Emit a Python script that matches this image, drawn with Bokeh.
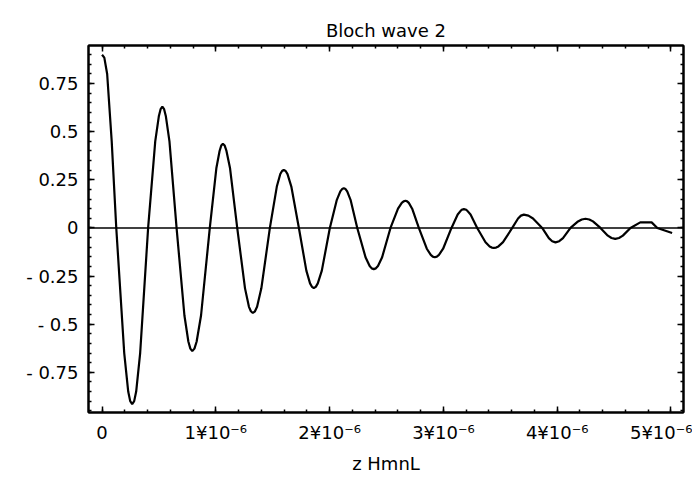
from bokeh.plotting import figure
from bokeh.models import FixedTicker, LinearAxis, Span, Range1d
from bokeh.embed import file_html
from bokeh.resources import INLINE

# z in units of 1e-6 m, amplitude of Bloch wave 2
z_um = [0.000, 0.020, 0.045, 0.085, 0.125, 0.195, 0.230, 0.2475, 0.265, 0.2825, 0.300, 0.335, 0.405,
        0.4675, 0.499, 0.5145, 0.530, 0.5455, 0.561, 0.5925, 0.655,
        0.724, 0.7585, 0.776, 0.793, 0.812, 0.8315, 0.870, 0.947,
        1.0045, 1.033, 1.0475, 1.062, 1.078, 1.0935, 1.125, 1.188,
        1.2565, 1.291, 1.308, 1.325, 1.344, 1.3625, 1.400, 1.475,
        1.536, 1.5665, 1.582, 1.597, 1.6135, 1.630, 1.6635, 1.730,
        1.7955, 1.828, 1.8445, 1.861, 1.8785, 1.896, 1.9315, 2.002,
        2.0635, 2.094, 2.1095, 2.125, 2.140, 2.1545, 2.184, 2.243,
        2.3155, 2.352, 2.370, 2.388, 2.4065, 2.425, 2.4615, 2.535,
        2.601, 2.634, 2.6505, 2.667, 2.6815, 2.696, 2.7255, 2.784,
        2.854, 2.889, 2.9065, 2.924, 2.9425, 2.961, 2.9975, 3.071,
        3.1255, 3.153, 3.1665, 3.180, 3.1945, 3.209, 3.2385, 3.297,
        3.370, 3.4065, 3.425, 3.443, 3.463, 3.4835, 3.524, 3.605,
        3.656, 3.6815, 3.707, 3.747, 3.7875, 3.868, 3.9265, 3.956, 3.985, 4.018, 4.051, 4.117,
        4.183, 4.216, 4.249, 4.282, 4.3145, 4.380, 4.445, 4.4775, 4.510, 4.5435, 4.577, 4.644,
        4.730, 4.830, 4.880, 5.010]
psi = [0.900, 0.885, 0.800, 0.450, 0.000, -0.650, -0.850, -0.900, -0.915, -0.900, -0.850, -0.650, 0.000,
       0.450, 0.580, 0.617, 0.630, 0.617, 0.580, 0.450, 0.000,
       -0.455, -0.590, -0.627, -0.640, -0.627, -0.590, -0.455, 0.000,
       0.310, 0.400, 0.428, 0.437, 0.428, 0.400, 0.310, 0.000,
       -0.314, -0.410, -0.433, -0.442, -0.433, -0.410, -0.314, 0.000,
       0.215, 0.280, 0.296, 0.302, 0.296, 0.280, 0.215, 0.000,
       -0.222, -0.288, -0.306, -0.312, -0.306, -0.288, -0.222, 0.000,
       0.146, 0.190, 0.202, 0.206, 0.202, 0.190, 0.146, 0.000,
       -0.152, -0.198, -0.210, -0.214, -0.210, -0.198, -0.152, 0.000,
       0.100, 0.130, 0.138, 0.141, 0.138, 0.130, 0.100, 0.000,
       -0.108, -0.140, -0.149, -0.152, -0.149, -0.140, -0.108, 0.000,
       0.070, 0.090, 0.096, 0.098, 0.096, 0.090, 0.070, 0.000,
       -0.074, -0.096, -0.102, -0.104, -0.102, -0.096, -0.074, 0.000,
       0.049, 0.064, 0.069, 0.064, 0.049, 0.000, -0.053, -0.069, -0.075, -0.069, -0.053, 0.000,
       0.034, 0.044, 0.048, 0.044, 0.034, 0.000, -0.040, -0.052, -0.057, -0.052, -0.040, 0.000,
       0.029, 0.029, 0.000, -0.026]

x_ticks = [0, 1, 2, 3, 4, 5]
x_tick_labels = ["0", "1¥10⁻⁶", "2¥10⁻⁶", "3¥10⁻⁶", "4¥10⁻⁶", "5¥10⁻⁶"]
y_ticks = [-0.75, -0.5, -0.25, 0, 0.25, 0.5, 0.75]
y_tick_labels = ["- 0.75", "- 0.5", "- 0.25", "0", "0.25", "0.5", "0.75"]

FONT = "DejaVu Sans"
FS = "18px"

p = figure(width=692, height=476, output_backend="svg", toolbar_location=None,
           x_range=Range1d(-0.119, 5.11), y_range=Range1d(-0.959, 0.948),
           title="Bloch wave 2", x_axis_label="z HmnL")
p.min_border_left = 88
p.min_border_right = 9
p.min_border_top = 45
p.min_border_bottom = 63
p.background_fill_color = "white"
p.border_fill_color = "white"
p.grid.visible = False
p.outline_line_color = "black"
p.outline_line_width = 2

p.title.align = "center"
p.title.text_font = FONT
p.title.text_font_size = FS
p.title.text_font_style = "normal"
p.title.text_color = "black"

x_minor = [i * 0.2 for i in range(0, 26)]
y_minor = [round(-0.95 + i * 0.05, 2) for i in range(0, 39)]
xt = FixedTicker(ticks=x_ticks, minor_ticks=x_minor)
yt = FixedTicker(ticks=y_ticks, minor_ticks=y_minor)


def style(ax, show_labels=True):
    ax.axis_line_color = "black"
    ax.axis_line_width = 2
    ax.major_tick_in = 6
    ax.major_tick_out = 0
    ax.minor_tick_in = 3
    ax.minor_tick_out = 0
    ax.major_tick_line_color = "black"
    ax.minor_tick_line_color = "black"
    ax.major_tick_line_width = 1.5
    ax.minor_tick_line_width = 1.5
    ax.major_label_text_font = FONT
    ax.major_label_text_color = "black"
    if show_labels:
        ax.major_label_text_font_size = FS
    else:
        ax.major_label_text_font_size = "0px"
        ax.major_label_standoff = 0


xa = p.xaxis[0]
xa.ticker = xt
xa.major_label_overrides = {t: l for t, l in zip(x_ticks, x_tick_labels)}
style(xa)
xa.major_label_standoff = 9
xa.axis_label_text_font = FONT
xa.axis_label_text_font_size = FS
xa.axis_label_text_font_style = "normal"
xa.axis_label_text_color = "black"
xa.axis_label_standoff = 7

ya = p.yaxis[0]
ya.ticker = yt
ya.major_label_overrides = {t: l for t, l in zip(y_ticks, y_tick_labels)}
style(ya)
ya.major_label_standoff = 10

top = LinearAxis(ticker=xt)
style(top, False)
top.major_label_overrides = {t: "" for t in x_ticks}
p.add_layout(top, "above")
right = LinearAxis(ticker=yt)
style(right, False)
right.major_label_overrides = {t: "" for t in y_ticks}
p.add_layout(right, "right")

p.add_layout(Span(location=0, dimension="width", line_color="black", line_width=1.5))

p.line(z_um, psi, line_color="black", line_width=2.2)

open("out.html", "w").write(file_html(p, INLINE))
